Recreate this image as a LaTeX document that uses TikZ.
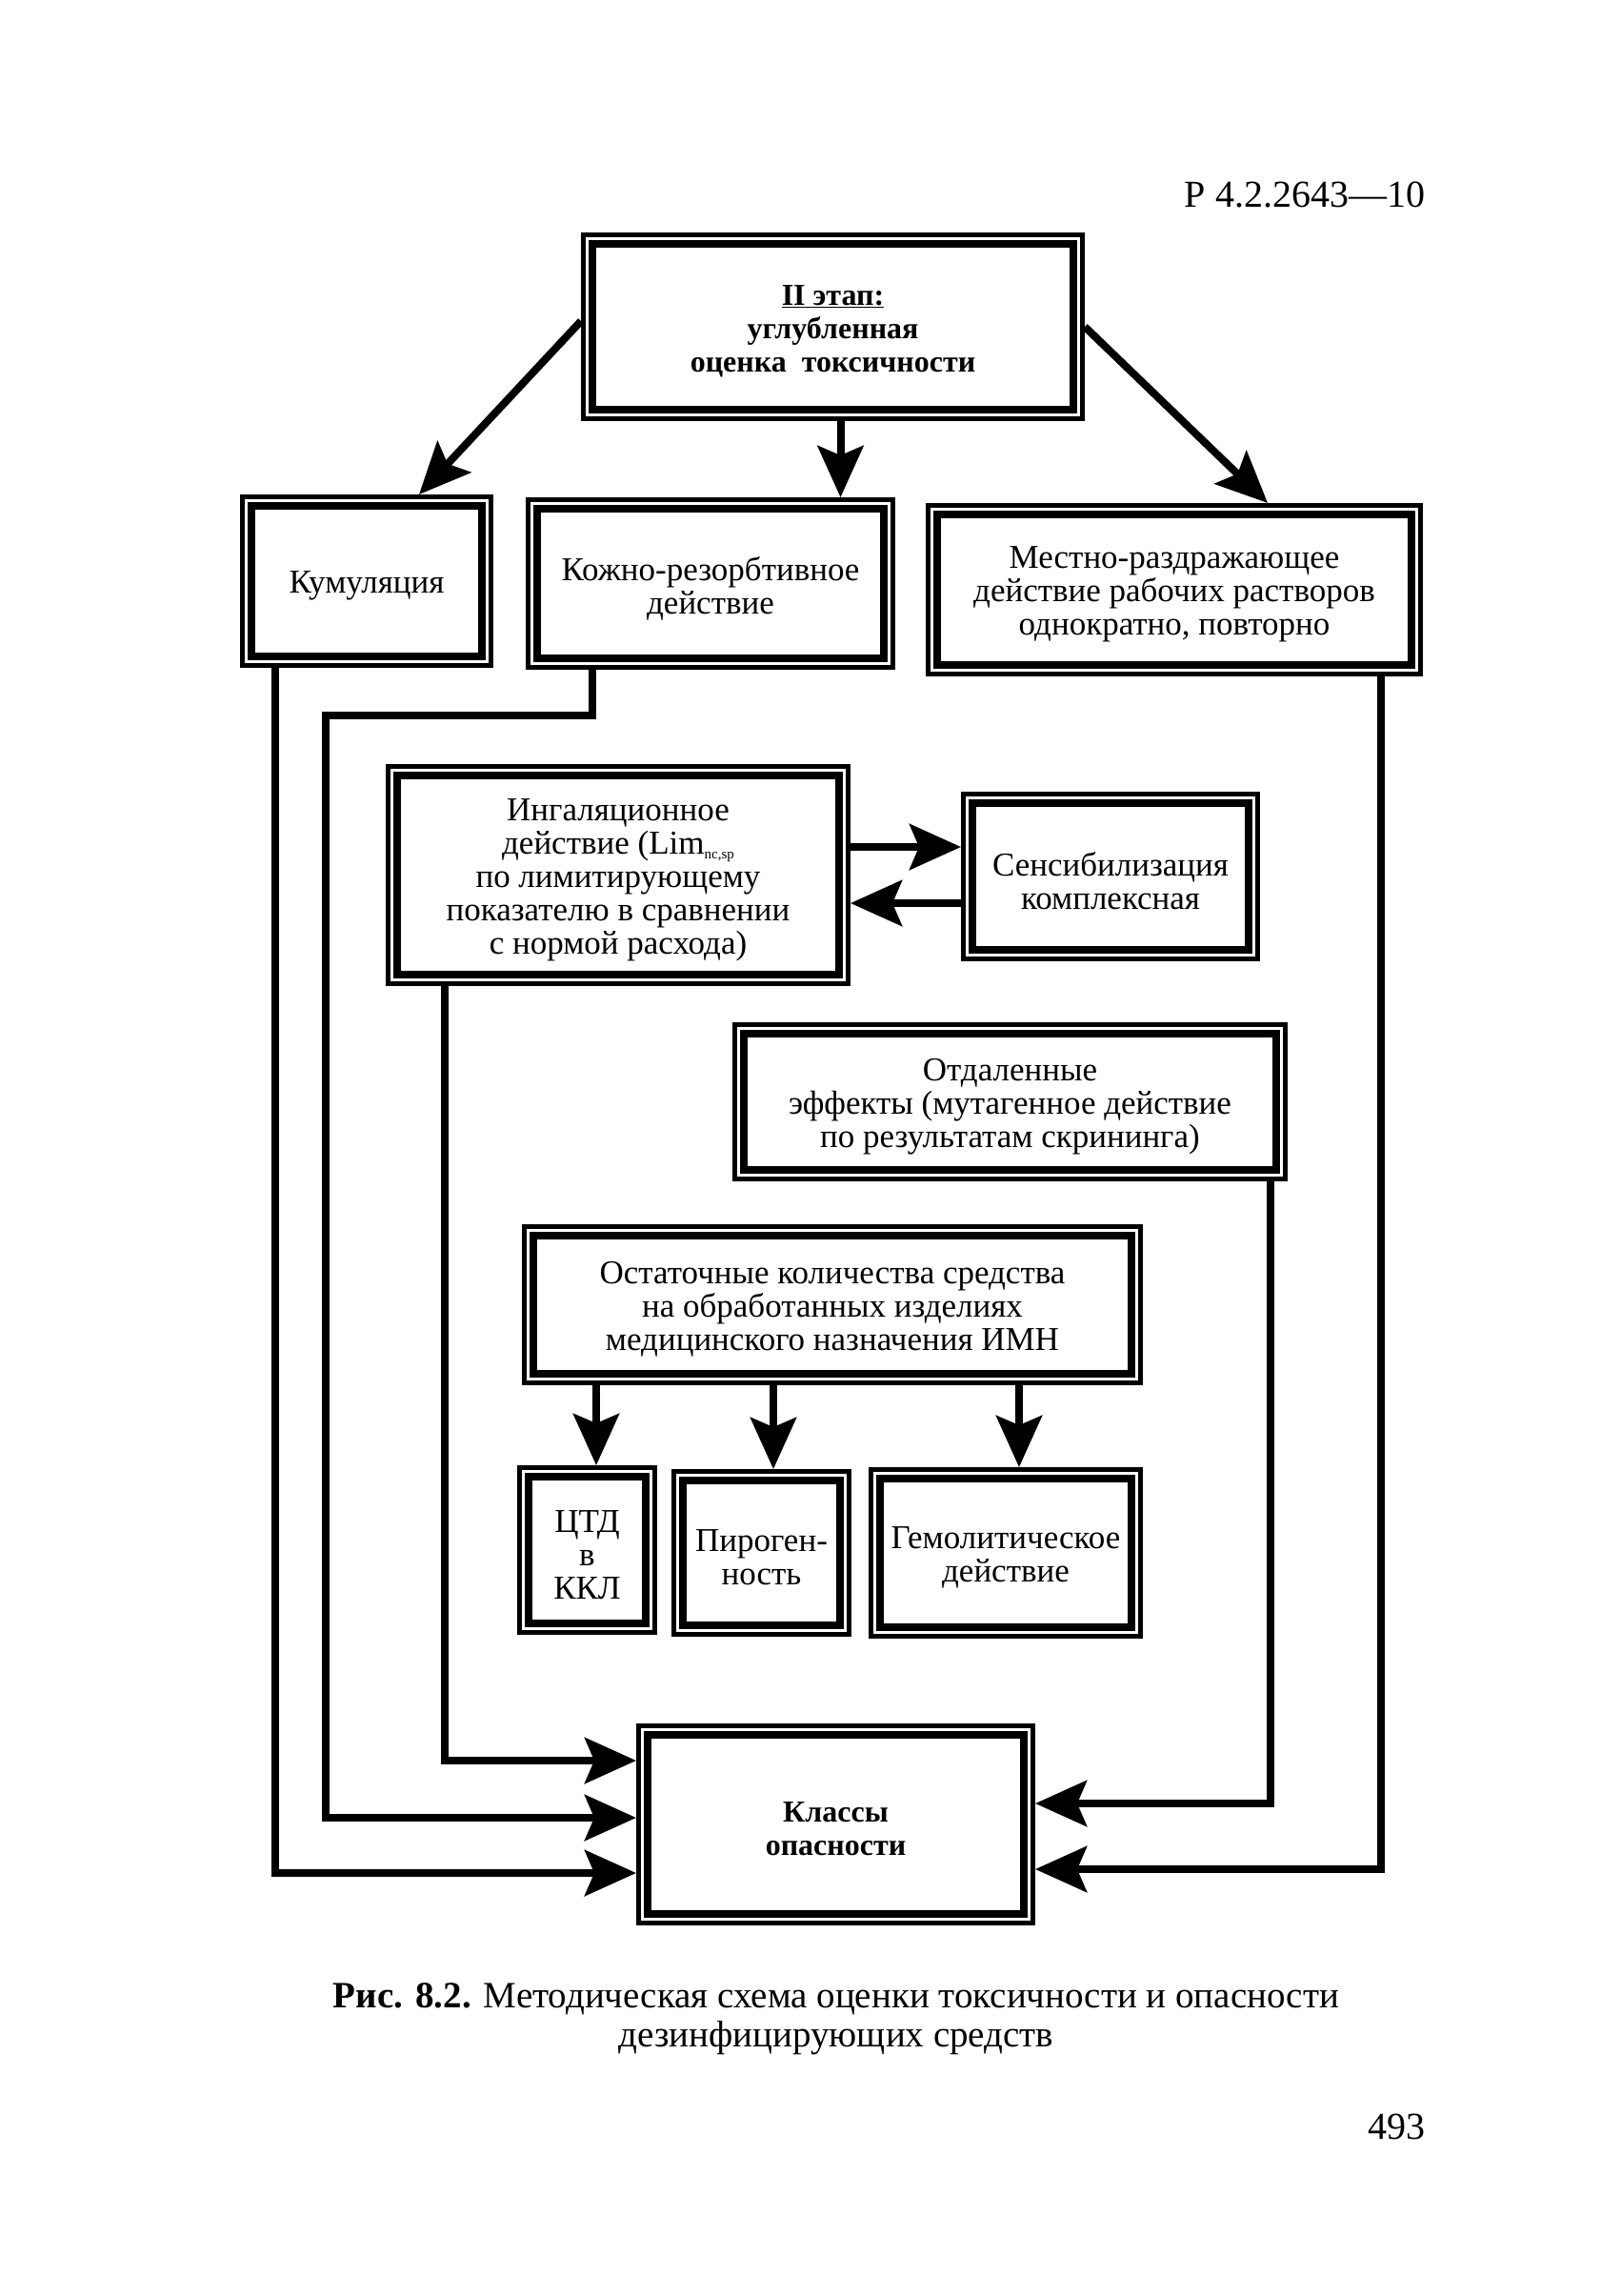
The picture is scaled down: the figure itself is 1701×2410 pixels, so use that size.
\documentclass[tikz,border=0pt]{standalone}
\usepackage{fontspec}
\setmainfont{Liberation Serif}
\usetikzlibrary{arrows.meta,calc}
\newcommand\dbox[7][]{%
  \node[plain,minimum width={#5-#3},minimum height={#6-#4}] (#2) at ({(#3+#5)/2},{(#4+#6)/2}) {};
  \node[txt,#1] (#2-t) at ([yshift=-5pt]#2.center) {#7};
  \draw[line width=5pt] (#3+2.5,#4+2.5) rectangle (#5-2.5,#6-2.5);
  \draw[line width=8pt] (#3+12,#4+12) rectangle (#5-12,#6-12);
}
\begin{document}
\begin{tikzpicture}[x=1pt,y=-1pt,
  plain/.style={inner sep=0pt,outer sep=0pt},
  txt/.style={inner sep=0pt,outer sep=0pt,align=center,font=\fontsize{35}{35}\selectfont},
  boldtxt/.style={font=\bfseries\fontsize{32}{35}\selectfont},
  arr/.style={line width=8pt,-{Stealth[length=54pt,width=48pt,inset=10pt]}}]
\useasboundingbox (0,0) rectangle (1701,2410);
\fill[white] (0,0) rectangle (1701,2410);

\node[plain,anchor=east,font=\fontsize{40}{40}\selectfont] (hdr) at (1496,204) {Р 4.2.2643—10};

\dbox[boldtxt]{top}{610}{244}{1139}{442}{\underline{II этап:}\\углубленная\\оценка\ \ токсичности}
\dbox{kum}{252}{519}{518}{701}{Кумуляция}
\dbox{kozh}{552}{522}{940}{703}{Кожно-резорбтивное\\действие}
\dbox{mest}{972}{528}{1494}{710}{Местно-раздражающее\\действие рабочих растворов\\однократно, повторно}
\dbox{inh}{405}{802}{893}{1035}{Ингаляционное\\действие (Lim\raisebox{-0.35ex}{\fontsize{15}{15}\selectfont nc,sp}\\по лимитирующему\\показателю в сравнении\\с нормой расхода)}
\dbox{sens}{1009}{831}{1323}{1009}{Сенсибилизация\\комплексная}
\dbox{otd}{769}{1073}{1352}{1240}{Отдаленные\\эффекты (мутагенное действие\\по результатам скрининга)}
\dbox{ost}{548}{1285}{1200}{1454}{Остаточные количества средства\\на обработанных изделиях\\медицинского назначения ИМН}
\dbox{ctd}{543}{1538}{690}{1716}{ЦТД\\в\\ККЛ}
\dbox{pir}{705}{1542}{894}{1718}{Пироген-\\ность}
\dbox{gem}{912}{1540}{1200}{1720}{Гемолитическое\\действие}
\dbox[boldtxt]{klass}{668}{1809}{1087}{2021}{Классы\\опасности}

% top arrows
\draw[arr] ([yshift=6pt]top.west) -- ([xshift=55pt]kum.north);
\draw[arr] ([xshift=8pt]top.south) -- ([xshift=8pt]top.south |- kozh.north);
\draw[arr] (top.east) -- ([xshift=98pt]mest.north);

% inhalation <-> sensibilisation
\coordinate (s1) at (0,889);
\coordinate (s2) at (0,948);
\draw[arr] (inh.east |- s1) -- (sens.west |- s1);
\draw[arr] (sens.west |- s2) -- (inh.east |- s2);

% residual -> three
\coordinate (d1) at (626,0);
\coordinate (d2) at (812,0);
\coordinate (d3) at (1070,0);
\draw[arr] (ost.south -| d1) -- (ctd.north -| d1);
\draw[arr] (ost.south -| d2) -- (pir.north -| d2);
\draw[arr] (ost.south -| d3) -- (gem.north -| d3);

% to hazard classes
\coordinate (k1) at (289,1966);
\draw[arr] (kum.south -| k1) -- (k1) -- (klass.west |- k1);
\coordinate (k2a) at (622,751);
\coordinate (k2b) at (342,1908);
\draw[arr] (kozh.south -| k2a) -- (k2a) -- (k2a -| k2b) -- (k2b) -- (klass.west |- k2b);
\coordinate (k3) at (467,1848);
\draw[arr] (inh.south -| k3) -- (k3) -- (klass.west |- k3);
\coordinate (k4) at (1450,1962);
\draw[arr] (mest.south -| k4) -- (k4) -- (klass.east |- k4);
\coordinate (k5) at (1334,1893);
\draw[arr] (otd.south -| k5) -- (k5) -- (klass.east |- k5);

\node[plain,align=center,font=\fontsize{39}{41}\selectfont] (cap) at (878,2119) {\textbf{Рис. 8.2.} Методическая схема оценки токсичности и опасности\\дезинфицирующих средств};
\node[plain,anchor=east,font=\fontsize{40}{40}\selectfont] (pg) at (1496,2232) {493};
\end{tikzpicture}
\end{document}
